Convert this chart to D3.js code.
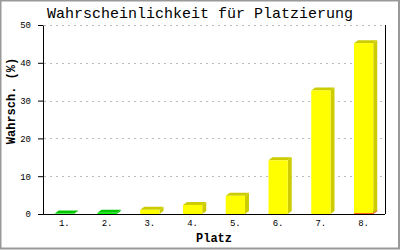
<!DOCTYPE html>
<html>
<head>
<meta charset="utf-8">
<script src="https://cdn.jsdelivr.net/npm/d3@7"></script>
<style>
  body { margin: 0; background: #fff; }
  text { font-family: "Liberation Mono", "DejaVu Sans Mono", monospace; }
</style>
</head>
<body>
<script>
const width = 400
const height = 250
const margin = { top: 25, right: 15, bottom: 36, left: 43 }

const categories = ['1.', '2.', '3.', '4.', '5.', '6.', '7.', '8.']
// stacked series: green, yellow, red
const greenValues = [0.1, 0.3, 0, 0, 0, 0, 0, 0]
const yellowValues = [0, 0, 1.1, 2.4, 4.8, 14.2, 32.7, 45.0]
const redValues = [0, 0, 0, 0, 0, 0, 0, 0.2]
const yTicks = [0, 10, 20, 30, 40, 50]
const seriesColors = [
  { front: '#00ff00', side: '#00c800' },
  { front: '#ffff00', side: '#cccc00' },
  { front: '#ff0000', side: '#cc0000' }
]

const svg = d3.select('body').append('svg')
  .attr('width', width)
  .attr('height', height)

svg.append('rect')
  .attr('x', 0.5).attr('y', 0.5)
  .attr('width', width - 1.5).attr('height', height - 2)
  .attr('fill', '#fff')
  .attr('stroke', '#999')
  .attr('stroke-width', 2)

const xScale = d3.scaleBand()
  .domain(categories)
  .range([margin.left, width - margin.right])
  .paddingInner(0.55)
  .paddingOuter(0.275)

const yScale = d3.scaleLinear()
  .domain([0, 50])
  .range([height - margin.bottom, margin.top])

// grid
svg.append('g')
  .selectAll('line')
  .data(yTicks.filter(d => d > 0))
  .enter()
  .append('line')
  .attr('x1', margin.left + 1)
  .attr('x2', width - margin.right)
  .attr('y1', d => Math.round(yScale(d)) + 0.5)
  .attr('y2', d => Math.round(yScale(d)) + 0.5)
  .attr('stroke', '#bbb')
  .attr('stroke-dasharray', '2,4')

// stacked bars with a little depth
const stackData = categories.map((c, i) => ({
  cat: c, g: greenValues[i], y: yellowValues[i], r: redValues[i]
}))
// red at the bottom, then green, then yellow
const stack = d3.stack().keys(['r', 'g', 'y'])(stackData)
const colorByKey = { g: seriesColors[0], y: seriesColors[1], r: seriesColors[2] }
const dx = 4
const dy = 3

stack.forEach(function (layer) {
  const col = colorByKey[layer.key]
  const g = svg.append('g')
  layer.forEach(function (d) {
    if (d[1] - d[0] <= 0) return
    const x0 = xScale(d.data.cat)
    const x1 = x0 + xScale.bandwidth()
    const yTop = yScale(d[1])
    const yBot = yScale(d[0])
    // side
    g.append('path')
      .attr('d', `M${x1},${yBot}L${x1 + dx},${yBot - dy}L${x1 + dx},${yTop - dy}L${x1},${yTop}Z`)
      .attr('fill', col.side)
    // top
    g.append('path')
      .attr('d', `M${x0},${yTop}L${x0 + dx},${yTop - dy}L${x1 + dx},${yTop - dy}L${x1},${yTop}Z`)
      .attr('fill', col.side)
    // front
    g.append('rect')
      .attr('x', x0)
      .attr('y', yTop)
      .attr('width', xScale.bandwidth())
      .attr('height', Math.max(0, yBot - yTop))
      .attr('fill', col.front)
  })
})

// axes
const yAxis = d3.axisLeft(yScale)
  .tickValues(yTicks)
  .tickSize(5)
  .tickSizeOuter(0)
  .tickPadding(7)

const xAxis = d3.axisBottom(xScale)
  .tickSize(0)
  .tickPadding(6)

svg.append('g')
  .attr('transform', `translate(${margin.left},0)`)
  .call(yAxis)
  .call(g => g.selectAll('text').attr('font-size', '9px').attr('fill', '#000').style('font-family', '"Liberation Mono", monospace'))

svg.append('g')
  .attr('transform', `translate(0,${height - margin.bottom})`)
  .call(xAxis)
  .call(g => g.select('.domain').attr('d', `M${margin.left - 5},0.5H${width - margin.right}`))
  .call(g => g.selectAll('text').attr('font-size', '9px').attr('fill', '#000').style('font-family', '"Liberation Mono", monospace'))

// right frame line
svg.append('line')
  .attr('x1', width - margin.right + 0.5)
  .attr('x2', width - margin.right + 0.5)
  .attr('y1', margin.top)
  .attr('y2', height - margin.bottom)
  .attr('stroke', '#000')

// title
svg.append('text')
  .attr('x', 200)
  .attr('y', 18)
  .attr('text-anchor', 'middle')
  .attr('font-size', '15px')
  .text('Wahrscheinlichkeit für Platzierung')

svg.append('text')
  .attr('x', 214)
  .attr('y', 242)
  .attr('text-anchor', 'middle')
  .attr('font-size', '12px')
  .attr('font-weight', 'bold')
  .text('Platz')

svg.append('text')
  .attr('transform', 'translate(15,101) rotate(-90)')
  .attr('text-anchor', 'middle')
  .attr('font-size', '12px')
  .attr('font-weight', 'bold')
  .text('Wahrsch. (%)')
</script>
</body>
</html>
